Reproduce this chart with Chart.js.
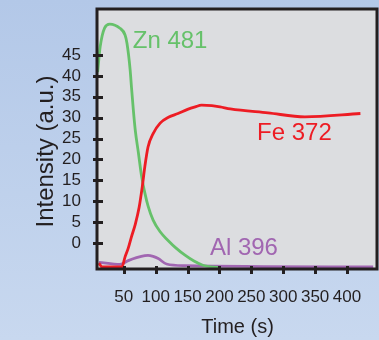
<!DOCTYPE html>
<html>
<head>
<meta charset="utf-8">
<script src="https://cdn.jsdelivr.net/npm/chart.js@4.4.1/dist/chart.umd.min.js"></script>
<style>
  html, body { margin: 0; padding: 0; }
  body { width: 379px; height: 340px; background: linear-gradient(#b3c8e8, #c8d8ef); overflow: hidden; }
  #wrap { position: relative; width: 379px; height: 340px; }
</style>
</head>
<body>
<div id="wrap"><canvas id="chart"></canvas></div>
<script>
// --- data ---
const seriesNames = ['Zn 481', 'Fe 372', 'Al 396'];

const znTime = [9, 13, 20, 28, 44, 52, 55, 60, 62, 65, 68, 73, 78, 83, 88, 96, 107, 119, 132, 146, 160, 174, 200];
const znIntensity = [40.9, 47, 51.5, 52.4, 51.4, 49.8, 47.8, 41.4, 37.4, 31.8, 27, 21.5, 15.9, 12, 8.9, 5.5, 2.7, 0.7, -1.2, -2.9, -4.3, -5.3, -5.9];

const feTime = [11, 16, 47, 52, 57, 62, 68, 74, 79, 83, 88, 96, 107, 120, 135, 150, 162, 172, 188, 201, 217, 276, 334, 421];
const feIntensity = [-4.8, -5.7, -5.7, -3.3, -1.2, 1.5, 4.5, 8.5, 13.5, 18.3, 23, 26.2, 28.7, 30.1, 31, 32, 32.6, 33, 32.9, 32.6, 32.1, 31.15, 30.2, 31];

const alTime = [11, 44, 57, 70, 83, 88, 96, 104, 117, 146, 441];
const alIntensity = [-4.6, -5.1, -4.2, -3.5, -3, -2.95, -3.2, -3.7, -5, -5.4, -5.7];

const xTickValues = [50, 100, 150, 200, 250, 300, 350, 400];
const yTickValues = [0, 5, 10, 15, 20, 25, 30, 35, 40, 45];

const seriesColors = ['#66c16a', '#ed1c24', '#a166b1'];

const FONT = "'Liberation Sans', Arial, sans-serif";
const INK = '#231f20';

function toPoints(xs, ys) {
  return xs.map((x, i) => ({ x: x, y: ys[i] }));
}

// fondo gris del área, borde, marcas y textos
const framePlugin = {
  id: 'frame',
  beforeDatasetsDraw(chart) {
    const { ctx, chartArea: a } = chart;
    ctx.save();
    ctx.fillStyle = '#dcdde0';
    ctx.fillRect(a.left, a.top, a.right - a.left, a.bottom - a.top);
    ctx.restore();
  },
  afterDatasetsDraw(chart) {
    const { ctx, chartArea: a, scales } = chart;
    ctx.save();
    ctx.strokeStyle = INK;
    ctx.lineWidth = 3;
    ctx.strokeRect(a.left, a.top, a.right - a.left, a.bottom - a.top);

    // tick marks crossing the axes
    yTickValues.forEach(v => {
      const py = Math.round(scales.y.getPixelForValue(v)) + 0.5;
      ctx.beginPath();
      ctx.moveTo(a.left - 4, py);
      ctx.lineTo(a.left + 6, py);
      ctx.stroke();
    });
    xTickValues.forEach(v => {
      const px = Math.round(scales.x.getPixelForValue(v)) + 0.5;
      ctx.beginPath();
      ctx.moveTo(px, a.bottom - 3);
      ctx.lineTo(px, a.bottom + 5);
      ctx.stroke();
    });

    // series labels
    ctx.font = '24px ' + FONT;
    ctx.textAlign = 'left';
    ctx.textBaseline = 'alphabetic';
    const labelAt = [[64, 46.6], [259, 24.6], [185, -2.9]];
    seriesNames.forEach((name, i) => {
      ctx.fillStyle = seriesColors[i];
      ctx.fillText(name, scales.x.getPixelForValue(labelAt[i][0]), scales.y.getPixelForValue(labelAt[i][1]));
    });

    // axis titles
    ctx.fillStyle = INK;
    ctx.font = '20px ' + FONT;
    ctx.textAlign = 'center';
    ctx.fillText('Time (s)', 237.5, 333);
    ctx.translate(53, 151.5);
    ctx.rotate(-Math.PI / 2);
    ctx.font = '24px ' + FONT;
    ctx.fillText('Intensity (a.u.)', 0, 0);
    ctx.restore();
  }
};

const datasets = [
  toPoints(znTime, znIntensity),
  toPoints(feTime, feIntensity),
  toPoints(alTime, alIntensity)
].map((pts, i) => ({
  label: seriesNames[i],
  data: pts,
  borderColor: seriesColors[i],
  borderWidth: 2.8,
  pointRadius: 0,
  fill: false,
  cubicInterpolationMode: 'monotone'
}));

// Al se dibuja primero (abajo), luego Zn y Fe
datasets[2].order = 3;
datasets[0].order = 2;
datasets[1].order = 1;

new Chart(document.getElementById('chart'), {
  type: 'line',
  data: { datasets: datasets },
  options: {
    responsive: true,
    maintainAspectRatio: false,
    animation: false,
    layout: { padding: { top: 9, right: 2, left: 0, bottom: 0 } },
    plugins: { legend: { display: false }, tooltip: { enabled: false } },
    scales: {
      x: {
        type: 'linear',
        min: 8,
        max: 447,
        afterFit: scale => {
          scale.height = 71;
          scale.paddingLeft = 0;
          scale.paddingRight = 0;
        },
        afterBuildTicks: scale => { scale.ticks = xTickValues.map(v => ({ value: v })); },
        grid: { display: false },
        border: { display: false },
        ticks: { color: INK, font: { family: FONT, size: 17 }, padding: 10, maxRotation: 0, autoSkip: false }
      },
      y: {
        type: 'linear',
        min: -6.2,
        max: 56,
        afterFit: scale => {
          scale.width = 97;
          scale.paddingTop = 0;
          scale.paddingBottom = 0;
        },
        afterBuildTicks: scale => { scale.ticks = yTickValues.map(v => ({ value: v })); },
        grid: { display: false },
        border: { display: false },
        ticks: { color: INK, font: { family: FONT, size: 17 }, padding: 8, autoSkip: false }
      }
    }
  },
  plugins: [framePlugin]
});
</script>
</body>
</html>
